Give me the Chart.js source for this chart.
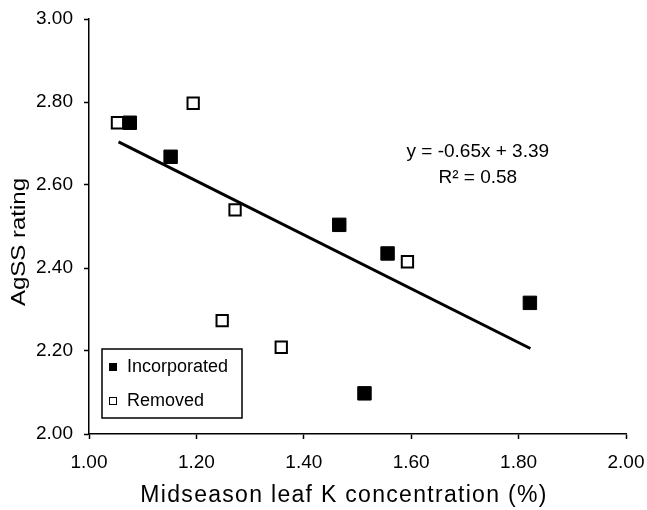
<!DOCTYPE html>
<html lang="en">
<head>
    <meta charset="UTF-8">
    <title>AgSS rating vs midseason leaf K</title>
    <script src="https://cdn.jsdelivr.net/npm/chart.js"></script>
    <style>
        body {
            margin: 0;
            background-color: #fff;
        }
        #wrap {
            width: 647px;
            height: 510px;
        }
    </style>
</head>
<body>
    <div id="wrap">
        <canvas id="kChart" width="647" height="510"></canvas>
    </div>

    <script>
        // data
        const incorporatedX = [1.076, 1.152, 1.466, 1.556, 1.821, 1.513];
        const incorporatedY = [2.750, 2.668, 2.504, 2.435, 2.316, 2.098];
        const removedX = [1.053, 1.194, 1.272, 1.248, 1.358, 1.593];
        const removedY = [2.750, 2.797, 2.540, 2.273, 2.209, 2.415];
        const trendX = [1.055, 1.822];
        const trendY = [2.704, 2.206];
        const equationLines = ['y = -0.65x + 3.39', 'R\u00B2 = 0.58'];
        const xTitle = 'Midseason leaf K concentration (%)';
        const yTitle = 'AgSS rating';

        const FONT = '"Liberation Sans", Arial, sans-serif';

        function pairs(xs, ys) {
            return xs.map((x, i) => ({ x: x, y: ys[i] }));
        }

        // axis titles, equation and in-plot legend
        const extras = {
            id: 'extras',
            afterDraw(chart) {
                const ctx = chart.ctx;
                const xs = chart.scales.x, ys = chart.scales.y;
                ctx.save();
                ctx.fillStyle = '#000';
                ctx.textBaseline = 'middle';

                // x title
                ctx.font = '23px ' + FONT;
                ctx.letterSpacing = '1.3px';
                ctx.textAlign = 'center';
                ctx.fillText(xTitle, 344, 496);
                ctx.letterSpacing = '0px';

                // y title
                ctx.save();
                ctx.translate(19, 242);
                ctx.rotate(-Math.PI / 2);
                ctx.scale(1.2, 1);
                ctx.font = '20px ' + FONT;
                ctx.fillText(yTitle, 0, 0);
                ctx.restore();

                // regression equation
                ctx.font = '19px ' + FONT;
                ctx.fillText(equationLines[0], xs.getPixelForValue(1.724), ys.getPixelForValue(2.680));
                ctx.fillText(equationLines[1], xs.getPixelForValue(1.724), ys.getPixelForValue(2.617));

                // legend box
                const lx = 102, ly = 349, lw = 140, lh = 69;
                ctx.lineWidth = 1.5;
                ctx.strokeStyle = '#000';
                ctx.fillStyle = '#fff';
                ctx.fillRect(lx, ly, lw, lh);
                ctx.strokeRect(lx, ly, lw, lh);
                const rows = [chart.data.datasets[0], chart.data.datasets[1]];
                rows.forEach((ds, i) => {
                    const cy = ly + 18 + i * 34;
                    ctx.fillStyle = ds.backgroundColor;
                    ctx.fillRect(109, cy - 4, 8, 8);
                    ctx.lineWidth = 1;
                    ctx.strokeStyle = '#000';
                    ctx.strokeRect(109.5, cy - 3.5, 7, 7);
                    ctx.fillStyle = '#000';
                    ctx.textAlign = 'left';
                    ctx.font = '18px ' + FONT;
                    ctx.fillText(ds.label, 127, cy);
                });
                ctx.restore();
            }
        };

        const ctx = document.getElementById('kChart').getContext('2d');
        new Chart(ctx, {
            type: 'scatter',
            data: {
                datasets: [
                    {
                        label: 'Incorporated',
                        data: pairs(incorporatedX, incorporatedY),
                        pointStyle: 'rect',
                        pointRadius: 9.5,
                        backgroundColor: '#000',
                        borderColor: '#000',
                        borderWidth: 1
                    },
                    {
                        label: 'Removed',
                        data: pairs(removedX, removedY),
                        pointStyle: 'rect',
                        pointRadius: 8,
                        backgroundColor: '#fff',
                        borderColor: '#000',
                        borderWidth: 2
                    },
                    {
                        label: 'Trend',
                        data: pairs(trendX, trendY),
                        showLine: true,
                        borderColor: '#000',
                        borderWidth: 3,
                        pointRadius: 0
                    }
                ]
            },
            options: {
                responsive: false,
                animation: false,
                layout: {
                    padding: { top: 19, right: 21, left: 0, bottom: 0 }
                },
                plugins: {
                    legend: { display: false },
                    tooltip: { enabled: false }
                },
                scales: {
                    x: {
                        type: 'linear',
                        min: 1,
                        max: 2,
                        afterFit(scale) {
                            scale.height = 76;
                            scale.paddingLeft = 0;
                            scale.paddingRight = 0;
                        },
                        border: { color: '#000', width: 1.5 },
                        grid: {
                            drawOnChartArea: false,
                            tickLength: 5,
                            tickColor: '#000',
                            tickWidth: 1.5
                        },
                        ticks: {
                            stepSize: 0.2,
                            padding: 12,
                            color: '#000',
                            font: { family: FONT, size: 19 },
                            maxRotation: 0,
                            callback: v => v.toFixed(2)
                        }
                    },
                    y: {
                        type: 'linear',
                        min: 2,
                        max: 3,
                        afterFit(scale) {
                            scale.width = 89;
                            scale.paddingTop = 0;
                            scale.paddingBottom = 0;
                        },
                        border: { color: '#000', width: 1.5 },
                        grid: {
                            drawOnChartArea: false,
                            tickLength: 5,
                            tickColor: '#000',
                            tickWidth: 1.5
                        },
                        ticks: {
                            stepSize: 0.2,
                            padding: 11,
                            color: '#000',
                            font: { family: FONT, size: 19 },
                            callback: v => v.toFixed(2)
                        }
                    }
                }
            },
            plugins: [extras]
        });
    </script>
</body>
</html>
